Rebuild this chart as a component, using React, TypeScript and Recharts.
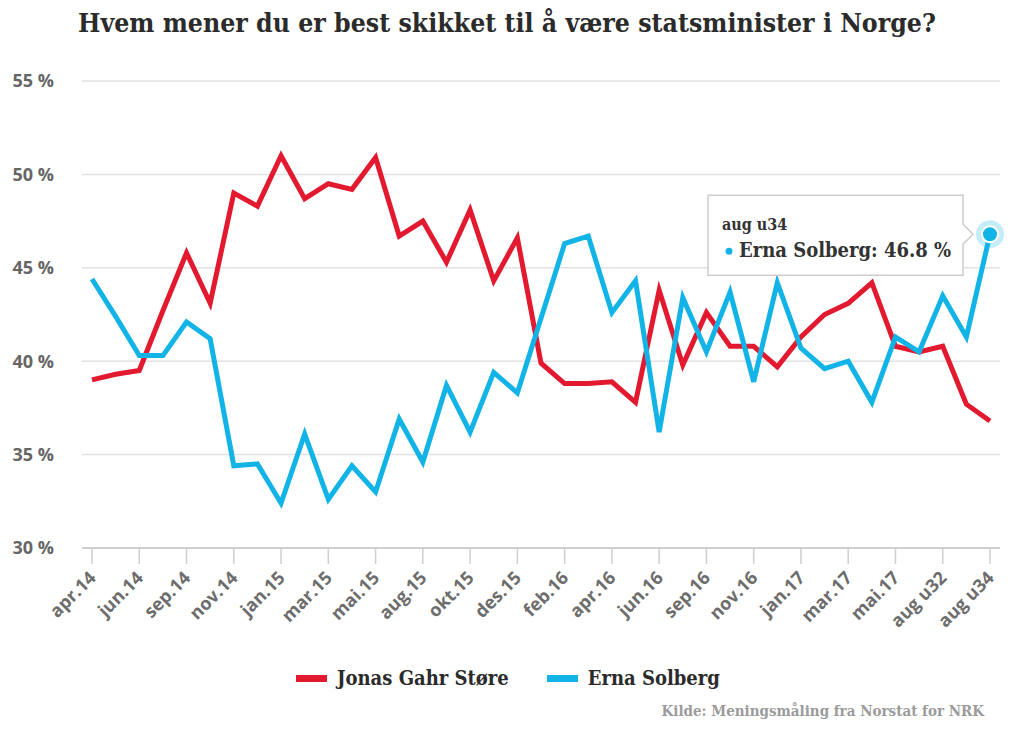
import { LineChart, Line, XAxis, YAxis, CartesianGrid } from "recharts";

const months = [
  "apr.14", "mai.14", "jun.14", "aug.14", "sep.14", "okt.14", "nov.14", "des.14",
  "jan.15", "feb.15", "mar.15", "apr.15", "mai.15", "jun.15", "aug.15", "sep.15",
  "okt.15", "nov.15", "des.15", "jan.16", "feb.16", "mar.16", "apr.16", "mai.16",
  "jun.16", "aug.16", "sep.16", "okt.16", "nov.16", "des.16", "jan.17", "feb.17",
  "mar.17", "apr.17", "mai.17", "jun.17", "aug u32", "aug u33", "aug u34",
];

const store = [
  39.0, 39.3, 39.5, 42.7, 45.8, 43.1, 49.0, 48.3, 51.0, 48.7, 49.5, 49.2, 50.9,
  46.7, 47.5, 45.3, 48.1, 44.3, 46.6, 39.9, 38.8, 38.8, 38.9, 37.8, 43.8, 39.8,
  42.6, 40.8, 40.8, 39.7, 41.3, 42.5, 43.1, 44.2, 40.8, 40.5, 40.8, 37.7, 36.8,
];

const solberg = [
  44.4, 42.4, 40.3, 40.3, 42.1, 41.2, 34.4, 34.5, 32.4, 36.1, 32.6, 34.4, 33.0,
  36.9, 34.6, 38.7, 36.2, 39.4, 38.3, 42.3, 46.3, 46.7, 42.6, 44.3, 36.2, 43.4,
  40.5, 43.7, 38.9, 44.2, 40.7, 39.6, 40.0, 37.8, 41.3, 40.5, 43.5, 41.3, 46.8,
];

const yTicks = [30, 35, 40, 45, 50, 55];

const RED = "#e2192f";
const BLUE = "#12b4e8";
const SERIF = "'DejaVu Serif Condensed', 'DejaVu Serif', serif";

const data = months.map((month, i) => ({ month, store: store[i], solberg: solberg[i] }));

const XTick = ({ x, y, payload }: any) => {
  const px = x + 5;
  const py = y + 13;
  return (
    <text
      x={px}
      y={py}
      transform={`rotate(-45 ${px} ${py})`}
      textAnchor="end"
      fill="#6d6d6d"
      fontFamily="'Open Sans', sans-serif"
      fontWeight={700}
      fontSize={18}
    >
      {payload.value}
    </text>
  );
};

// highlighted last point with the hover box beside it
const SolbergDot = (props: any) => {
  const { cx, cy, index, value } = props;
  if (index !== months.length - 1) return <g key={`d${index}`} />;
  const left = cx - 282;
  const right = cx - 27;
  const top = cy - 39;
  const bottom = cy + 41;
  const box = `M${left},${top} H${right} V${cy - 10} L${right + 10},${cy} L${right},${cy + 10} V${bottom} H${left} Z`;
  return (
    <g key={`d${index}`}>
      <path d={box} fill="#fff" stroke="#cdcdcd" strokeWidth={1.5} />
      <text x={left + 14} y={cy - 4} fontFamily={SERIF} fontWeight={700} fontSize={16} fill="#333">
        {months[index]}
      </text>
      <circle cx={left + 21} cy={cy + 17} r={3.5} fill={BLUE} />
      <text x={left + 31} y={cy + 23} fontFamily={SERIF} fontWeight={700} fontSize={20} fill="#333">
        {`Erna Solberg: ${value} %`}
      </text>
      <circle cx={cx} cy={cy} r={14} fill={BLUE} fillOpacity={0.25} />
      <circle cx={cx} cy={cy} r={8} fill={BLUE} stroke="#fff" strokeWidth={2} />
    </g>
  );
};

export default function App() {
  return (
    <div style={{ position: "absolute", left: 0, top: 0, width: 1024, height: 737, background: "#fff" }}>
      <div
        style={{
          position: "absolute",
          left: 78,
          top: 7,
          fontFamily: SERIF,
          fontStretch: "condensed",
          fontWeight: 700,
          fontSize: 26.4,
          color: "#2b2b2b",
          whiteSpace: "nowrap",
        }}
      >
        Hvem mener du er best skikket til å være statsminister i Norge?
      </div>
      <div style={{ position: "absolute", left: 0, top: 0 }}>
        <LineChart width={1024} height={737} data={data} margin={{ top: 81, right: 24, left: 0, bottom: 119 }}>
          <CartesianGrid vertical={false} stroke="#e2e2e2" strokeWidth={1.5} />
          <XAxis
            dataKey="month"
            interval={1}
            tickSize={16}
            height={70}
            padding={{ left: 10, right: 10 }}
            axisLine={{ stroke: "#cfcfcf", strokeWidth: 2 }}
            tickLine={{ stroke: "#cfcfcf", strokeWidth: 1.5 }}
            tick={<XTick />}
          />
          <YAxis
            domain={[30, 55]}
            ticks={yTicks}
            width={82}
            tickSize={0}
            tickMargin={28}
            axisLine={false}
            tickLine={false}
            tickFormatter={(v) => `${v} %`}
            tick={{ fill: "#666", fontFamily: "'Open Sans', sans-serif", fontWeight: 700, fontSize: 18 }}
          />
          <Line
            dataKey="store"
            stroke={RED}
            strokeWidth={5}
            dot={false}
            activeDot={false}
            isAnimationActive={false}
          />
          <Line
            dataKey="solberg"
            stroke={BLUE}
            strokeWidth={5}
            dot={SolbergDot}
            activeDot={false}
            isAnimationActive={false}
          />
        </LineChart>
      </div>
      <div
        style={{
          position: "absolute",
          left: 296,
          top: 666,
          display: "flex",
          alignItems: "center",
          fontFamily: SERIF,
          fontStretch: "condensed",
          fontWeight: 700,
          fontSize: 20,
          color: "#2b2b2b",
        }}
      >
        <span style={{ width: 31, height: 7, background: RED, marginRight: 10 }} />
        <span style={{ marginRight: 38 }}>Jonas Gahr Støre</span>
        <span style={{ width: 31, height: 7, background: BLUE, marginRight: 10 }} />
        <span>Erna Solberg</span>
      </div>
      <div
        style={{
          position: "absolute",
          right: 40,
          top: 702,
          fontFamily: SERIF,
          fontStretch: "condensed",
          fontWeight: 700,
          fontSize: 15,
          color: "#9b9b9b",
        }}
      >
        Kilde: Meningsmåling fra Norstat for NRK
      </div>
    </div>
  );
}
